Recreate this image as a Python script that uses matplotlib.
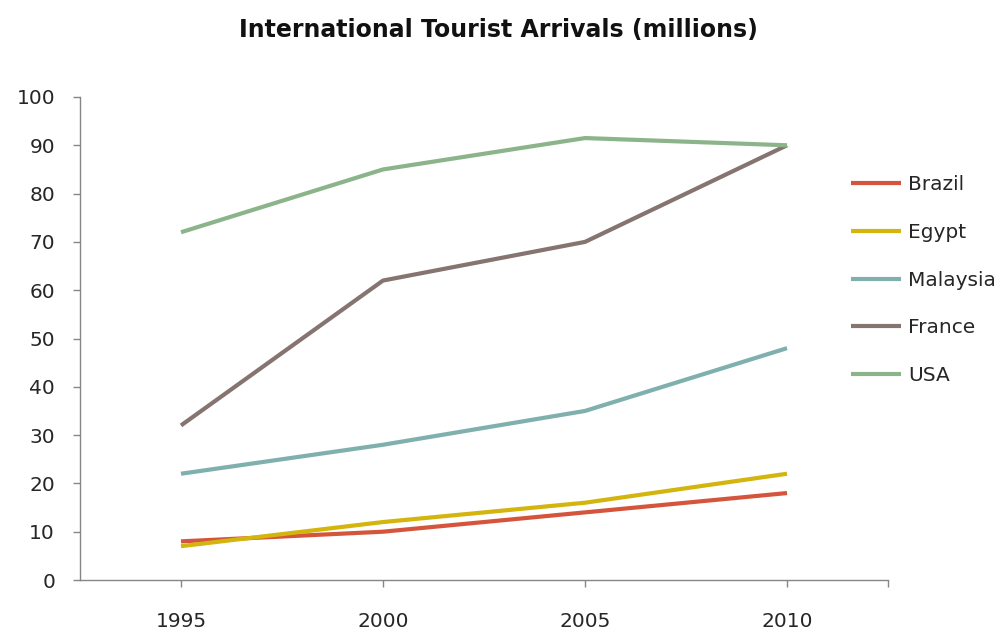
import matplotlib
matplotlib.use("Agg")
import matplotlib.pyplot as plt

years = ["1995", "2000", "2005", "2010"]
brazil = [8, 10, 14, 18]
egypt = [7, 12, 16, 22]
malaysia = [22, 28, 35, 48]
france = [32, 62, 70, 90]
usa = [72, 85, 91.5, 90]

series = [
    ("Brazil", brazil, "#d5553c"),
    ("Egypt", egypt, "#d4b50e"),
    ("Malaysia", malaysia, "#7fb0ae"),
    ("France", france, "#857470"),
    ("USA", usa, "#8cb48a"),
]

plt.rcParams["font.family"] = ["DejaVu Sans"]

fig = plt.figure(figsize=(10.06, 6.34), dpi=100)
ax = fig.add_axes([80 / 1006, 1 - 580 / 634, 808 / 1006, 483 / 634])

x = list(range(len(years)))
for name, vals, color in series:
    ax.plot(x, vals, color=color, linewidth=3.0, label=name,
            solid_joinstyle="round", solid_capstyle="butt")

ax.set_xlim(-0.5, len(years) - 0.5)
ax.set_ylim(0, 100)
ax.set_yticks(range(0, 101, 10))
ax.set_xticks(x)
ax.set_xticklabels(years)
ax.set_xticks([len(years) - 0.5], minor=True)

grey = "#868686"
for side in ["top", "right"]:
    ax.spines[side].set_visible(False)
for side in ["left", "bottom"]:
    ax.spines[side].set_color(grey)
    ax.spines[side].set_linewidth(1.0)

ax.tick_params(axis="both", which="both", direction="out", length=5,
               width=1.0, color=grey, labelsize=14.5, labelcolor="#262626")
ax.tick_params(axis="x", pad=18)
ax.tick_params(axis="y", pad=13)

fig.text(498 / 1006, 1 - 30 / 634, "International Tourist Arrivals (millions)",
         ha="center", va="center", fontsize=17, fontweight="bold", color="#111111")

ax.legend(loc="upper left", bbox_to_anchor=(851 / 1006, 1 - 175 / 634),
          bbox_transform=fig.transFigure, frameon=False, fontsize=14.5,
          handlelength=2.5, handletextpad=0.35, labelspacing=1.43,
          borderpad=0, borderaxespad=0, labelcolor="#262626")

fig.savefig("out.png", dpi=100)
plt.close(fig)
